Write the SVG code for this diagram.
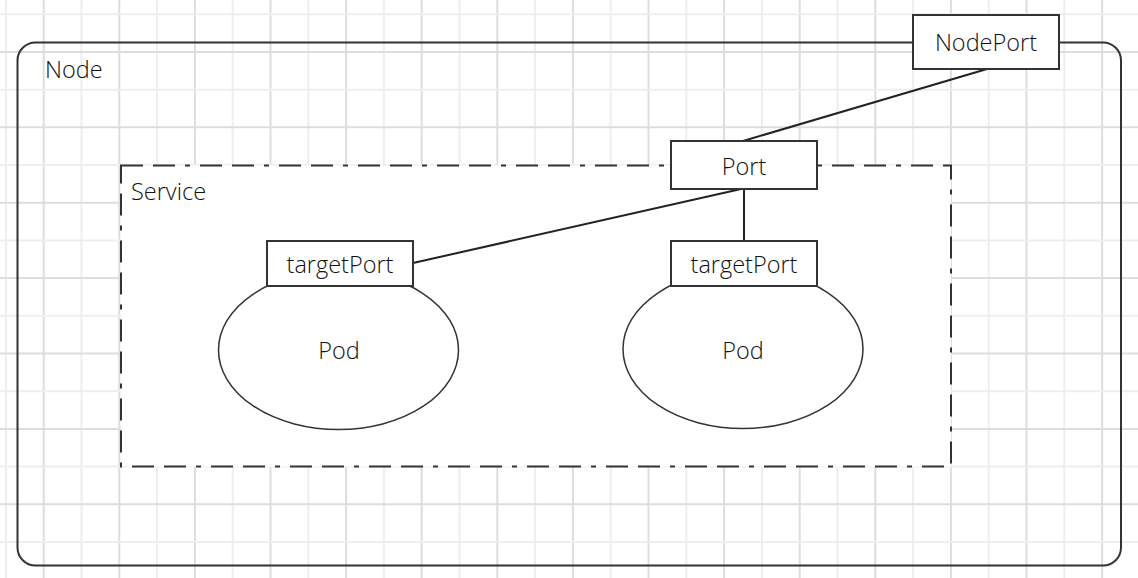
<svg xmlns="http://www.w3.org/2000/svg" width="1138" height="578" viewBox="0 0 1138 578">
<style>
.gd{stroke:#dddddd;stroke-width:2}
.gl{stroke:#eeeeee;stroke-width:2}
.box{fill:#ffffff;stroke:#333333;stroke-width:2}
.lbl{font-family:"Open Sans","Noto Sans",sans-serif;font-size:23.5px;font-weight:300;fill:#111111}
.mid{text-anchor:middle}
.conn{stroke:#222222;stroke-width:2;fill:none}
</style>
<rect x="0" y="0" width="1138" height="578" fill="#ffffff"/>
<g id="grid">
<line class="gl" x1="5.9" y1="0" x2="5.9" y2="578"/>
<line class="gd" x1="43.7" y1="0" x2="43.7" y2="578"/>
<line class="gl" x1="81.5" y1="0" x2="81.5" y2="578"/>
<line class="gd" x1="119.3" y1="0" x2="119.3" y2="578"/>
<line class="gl" x1="157.1" y1="0" x2="157.1" y2="578"/>
<line class="gd" x1="194.9" y1="0" x2="194.9" y2="578"/>
<line class="gl" x1="232.7" y1="0" x2="232.7" y2="578"/>
<line class="gd" x1="270.5" y1="0" x2="270.5" y2="578"/>
<line class="gl" x1="308.3" y1="0" x2="308.3" y2="578"/>
<line class="gd" x1="346.1" y1="0" x2="346.1" y2="578"/>
<line class="gl" x1="383.9" y1="0" x2="383.9" y2="578"/>
<line class="gd" x1="421.7" y1="0" x2="421.7" y2="578"/>
<line class="gl" x1="459.5" y1="0" x2="459.5" y2="578"/>
<line class="gd" x1="497.3" y1="0" x2="497.3" y2="578"/>
<line class="gl" x1="535.1" y1="0" x2="535.1" y2="578"/>
<line class="gd" x1="572.9" y1="0" x2="572.9" y2="578"/>
<line class="gl" x1="610.7" y1="0" x2="610.7" y2="578"/>
<line class="gd" x1="648.5" y1="0" x2="648.5" y2="578"/>
<line class="gl" x1="686.3" y1="0" x2="686.3" y2="578"/>
<line class="gd" x1="724.1" y1="0" x2="724.1" y2="578"/>
<line class="gl" x1="761.9" y1="0" x2="761.9" y2="578"/>
<line class="gd" x1="799.7" y1="0" x2="799.7" y2="578"/>
<line class="gl" x1="837.5" y1="0" x2="837.5" y2="578"/>
<line class="gd" x1="875.3" y1="0" x2="875.3" y2="578"/>
<line class="gl" x1="913.1" y1="0" x2="913.1" y2="578"/>
<line class="gd" x1="950.9" y1="0" x2="950.9" y2="578"/>
<line class="gl" x1="988.7" y1="0" x2="988.7" y2="578"/>
<line class="gd" x1="1026.5" y1="0" x2="1026.5" y2="578"/>
<line class="gl" x1="1064.3" y1="0" x2="1064.3" y2="578"/>
<line class="gd" x1="1102.1" y1="0" x2="1102.1" y2="578"/>
<line class="gl" x1="0" y1="14.3" x2="1138" y2="14.3"/>
<line class="gd" x1="0" y1="52" x2="1138" y2="52"/>
<line class="gl" x1="0" y1="89.7" x2="1138" y2="89.7"/>
<line class="gd" x1="0" y1="127.3" x2="1138" y2="127.3"/>
<line class="gl" x1="0" y1="165" x2="1138" y2="165"/>
<line class="gd" x1="0" y1="202.7" x2="1138" y2="202.7"/>
<line class="gl" x1="0" y1="240.4" x2="1138" y2="240.4"/>
<line class="gd" x1="0" y1="278.1" x2="1138" y2="278.1"/>
<line class="gl" x1="0" y1="315.8" x2="1138" y2="315.8"/>
<line class="gd" x1="0" y1="353.5" x2="1138" y2="353.5"/>
<line class="gl" x1="0" y1="391.2" x2="1138" y2="391.2"/>
<line class="gd" x1="0" y1="428.9" x2="1138" y2="428.9"/>
<line class="gl" x1="0" y1="466.6" x2="1138" y2="466.6"/>
<line class="gd" x1="0" y1="504.2" x2="1138" y2="504.2"/>
<line class="gl" x1="0" y1="541.9" x2="1138" y2="541.9"/>
</g>
<g id="node">
<rect x="17.5" y="42.5" width="1103.5" height="523" rx="18" ry="18" fill="none" stroke="#333333" stroke-width="2"/>
<text class="lbl" x="45" y="78">Node</text>
</g>
<g id="service">
<rect x="121" y="165.5" width="830" height="301" fill="#ffffff" stroke="#333333" stroke-width="2" stroke-dasharray="22 10 22 10 5 10"/>
<text class="lbl" x="131" y="200">Service</text>
</g>
<g id="connectors">
<line class="conn" x1="987" y1="69" x2="743" y2="141"/>
<line class="conn" x1="741" y1="189" x2="413" y2="263"/>
<line class="conn" x1="744" y1="189" x2="744" y2="241"/>
</g>
<g id="pod1">
<ellipse cx="338.5" cy="350" rx="120" ry="79.5" fill="#ffffff" stroke="#333333" stroke-width="1.5"/>
<text class="lbl mid" x="339" y="359">Pod</text>
</g>
<g id="pod2">
<ellipse cx="743" cy="349" rx="120" ry="79.5" fill="#ffffff" stroke="#333333" stroke-width="1.5"/>
<text class="lbl mid" x="743" y="359">Pod</text>
</g>
<g id="targetPort1">
<rect class="box" x="267" y="241" width="146" height="45"/>
<text class="lbl mid" x="340" y="273">targetPort</text>
</g>
<g id="targetPort2">
<rect class="box" x="671" y="241" width="146" height="45"/>
<text class="lbl mid" x="744" y="273">targetPort</text>
</g>
<g id="port">
<rect class="box" x="671" y="141" width="146" height="48"/>
<text class="lbl mid" x="744" y="175">Port</text>
</g>
<g id="nodePort">
<rect class="box" x="913" y="15" width="146" height="54"/>
<text class="lbl mid" x="986" y="51">NodePort</text>
</g>
</svg>
